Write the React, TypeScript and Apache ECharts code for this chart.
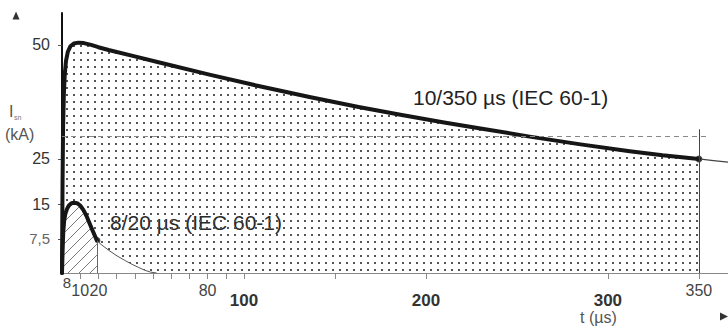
import React, { useEffect, useRef } from 'react';
import * as echarts from 'echarts';

// 10/350 µs impulse (t in µs, I in kA)
const wave10350: [number, number][] = [
  [0, 0], [0.3, 20], [0.6, 32], [1, 39], [1.5, 43.5], [2.2, 46.5], [3.2, 48.5], [4.6, 49.7],
  [6.5, 50.3], [9, 50.5], [12, 50.4], [16, 50], [20, 49.5], [25.6, 48.9], [40, 47.5],
  [53, 46.2], [81, 43.5], [108, 41.0], [136, 38.6], [163, 36.4], [186, 34.7], [210, 33.0],
  [230, 31.7], [257, 29.9], [285, 28.2], [312, 26.7], [330, 25.8], [350, 25.0],
];
const wave10350Tail: [number, number][] = [[350, 25.0], [358, 24.65], [366, 24.3]];

// 8/20 µs impulse
const wave820: [number, number][] = [
  [0, 0], [0.3, 5], [0.7, 9], [1.2, 11.5], [1.8, 12.9], [2.7, 14], [3.8, 14.8], [5.2, 15.3],
  [6.7, 15.4], [8.3, 15.3], [10, 14.8], [11.8, 13.8], [13.7, 12.3], [16.5, 9.6], [19.2, 7.1],
];
const wave820Tail: [number, number][] = [
  [19.2, 7.1], [20.5, 6.6], [22, 6.1], [25.6, 5.0], [30, 3.8], [34.8, 2.7], [38.5, 1.9],
  [42.2, 1.2], [45.5, 0.6], [48.6, 0.2], [52, 0],
];

const xTickValues = [10, 20, 30, 40, 50, 60, 70, 80, 90, 100, 150, 200, 300, 350];
const xLabelValues = [10, 20, 80, 100, 200, 300, 350];
const xBoldLabels = [100, 200, 300];
const frontTimeLabel = '8';
const yTickValues = [7.5, 15, 25, 50];
const yLabelText: Record<string, string> = { '7.5': '7,5', '15': '15', '25': '25', '50': '50' };
const refLevel = 30;
const refLineEnd = 356;
const markerTop = 31.5;

const FONT = '"Liberation Sans", Arial, Helvetica, sans-serif';

function makeDots(): string {
  const c = document.createElement('canvas');
  c.width = 7; c.height = 7;
  const ctx = c.getContext('2d')!;
  ctx.fillStyle = '#555';
  ctx.fillRect(3, 3, 2, 2);
  return c.toDataURL();
}

function makeHatch(): string {
  const s = 11;
  const c = document.createElement('canvas');
  c.width = s; c.height = s;
  const ctx = c.getContext('2d')!;
  ctx.strokeStyle = '#6a6a6a';
  ctx.lineWidth = 0.9;
  ctx.beginPath();
  ctx.moveTo(0, s); ctx.lineTo(s, 0);
  ctx.moveTo(-1, 1); ctx.lineTo(1, -1);
  ctx.moveTo(s - 1, s + 1); ctx.lineTo(s + 1, s - 1);
  ctx.stroke();
  return c.toDataURL();
}

export default function App() {
  const ref = useRef<HTMLDivElement>(null);
  useEffect(() => {
    if (!ref.current) return;
    const chart = echarts.init(ref.current, undefined, { renderer: 'svg' });
    const dots = { image: makeDots(), repeat: 'repeat', imageWidth: 7, imageHeight: 7 };
    const hatch = { image: makeHatch(), repeat: 'repeat', imageWidth: 11, imageHeight: 11 };
    const end820 = wave820[wave820.length - 1];
    const end10350 = wave10350[wave10350.length - 1];
    const smooth = false;

    const option: any = {
      animation: false,
      backgroundColor: '#fff',
      grid: { left: 62, right: 0, top: 13, bottom: 58 },
      xAxis: {
        type: 'value', min: 0, max: 366,
        splitLine: { show: false },
        axisLine: { show: true, lineStyle: { color: '#888', width: 1 } },
        axisTick: { show: true, customValues: xTickValues, length: 6, lineStyle: { color: '#888' } },
        axisLabel: {
          customValues: xLabelValues,
          hideOverlap: false,
          margin: 3,
          formatter: (v: number) => {
            if (xBoldLabels.indexOf(v) >= 0) return '{b|' + v + '}';
            return '{a|' + v + '}';
          },
          rich: {
            a: { fontSize: 16, color: '#444', fontFamily: FONT, padding: [6, 0, 0, 0] },
            b: { fontSize: 17, color: '#333', fontWeight: 'bold', fontFamily: FONT, padding: [16, 0, 0, 0] },
          },
        },
      },
      yAxis: {
        type: 'value', min: 0, max: 57,
        splitLine: { show: false },
        axisLine: { show: true, lineStyle: { color: '#111', width: 2 } },
        axisTick: { show: true, customValues: yTickValues, length: 4, lineStyle: { color: '#555' } },
        axisLabel: {
          customValues: yTickValues,
          margin: 12,
          formatter: (v: number) => (v === 7.5 ? '{s|' + yLabelText[String(v)] + '}' : '{n|' + yLabelText[String(v)] + '}'),
          rich: {
            n: { fontSize: 16, color: '#333', fontFamily: FONT },
            s: { fontSize: 15, color: '#666', fontFamily: FONT },
          },
        },
      },
      series: [
        {
          type: 'line', data: wave10350, smooth, symbol: 'none', silent: true,
          lineStyle: { width: 0, opacity: 0 },
          areaStyle: { color: dots, opacity: 1 },
          markLine: {
            silent: true, symbol: ['none', 'none'], label: { show: false },
            data: [
              [{ coord: [0, refLevel], lineStyle: { type: [5, 4], color: '#888', width: 1 } }, { coord: [refLineEnd, refLevel] }],
              [{ coord: [end10350[0], 0], lineStyle: { type: 'solid', color: '#444', width: 1 } }, { coord: [end10350[0], markerTop] }],
            ],
          },
        },
        {
          type: 'line', data: wave820.concat(wave820Tail.slice(1)), smooth, symbol: 'none', silent: true,
          lineStyle: { width: 0, opacity: 0 },
          areaStyle: { color: '#fff', opacity: 1 },
        },
        {
          type: 'line', data: wave820, smooth, symbol: 'none', silent: true,
          lineStyle: { width: 0, opacity: 0 },
          areaStyle: { color: hatch, opacity: 1 },
          markLine: {
            silent: true, symbol: ['none', 'none'], label: { show: false },
            lineStyle: { type: 'solid', color: '#666', width: 1 },
            data: [[{ coord: [end820[0], 0] }, { coord: [end820[0], end820[1]] }]],
          },
        },
        {
          type: 'line', data: wave10350Tail, smooth, symbol: 'none', silent: true,
          lineStyle: { width: 1.2, color: '#444' },
        },
        {
          type: 'line', data: wave820Tail, smooth, symbol: 'none', silent: true,
          lineStyle: { width: 1, color: '#555' },
        },
        {
          type: 'line', data: wave10350, smooth, symbol: 'none', silent: true,
          lineStyle: { width: 4, color: '#161616', cap: 'round', join: 'round' },
        },
        {
          type: 'line', data: wave820, smooth, symbol: 'none', silent: true,
          lineStyle: { width: 4, color: '#161616', cap: 'round', join: 'round' },
        },
        {
          type: 'scatter', data: [end820, end10350], symbol: 'circle', symbolSize: 7, silent: true,
          itemStyle: { color: '#161616' },
        },
      ],
      graphic: [
        { type: 'text', x: 413, y: 97, style: { text: '10/350 µs (IEC 60-1)', font: '21px ' + FONT, fill: '#222', verticalAlign: 'middle' } },
        { type: 'text', x: 110, y: 222, style: { text: '8/20 µs (IEC 60-1)', font: '21px ' + FONT, fill: '#2a2a2a', verticalAlign: 'middle' } },
        { type: 'text', x: 67, y: 282, style: { text: frontTimeLabel, font: '15px ' + FONT, fill: '#444', align: 'center', verticalAlign: 'middle' } },
        { type: 'text', x: 9, y: 111, style: { text: 'I', font: '16px ' + FONT, fill: '#555', verticalAlign: 'middle' } },
        { type: 'text', x: 14, y: 117, style: { text: 'sn', font: '7px ' + FONT, fill: '#777', verticalAlign: 'middle' } },
        { type: 'text', x: 5, y: 134, style: { text: '(kA)', font: '16px ' + FONT, fill: '#555', verticalAlign: 'middle' } },
        { type: 'text', x: 580, y: 317, style: { text: 't (µs)', font: '16px ' + FONT, fill: '#555', verticalAlign: 'middle' } },
        { type: 'polygon', shape: { points: [[12.5, 19.5], [19.5, 19.5], [16, 11.5]] }, style: { fill: '#333' } },
        { type: 'polygon', shape: { points: [[720, 312.5], [720, 320.5], [728, 316.5]] }, style: { fill: '#333' } },
      ],
    };
    chart.setOption(option);
    return () => chart.dispose();
  }, []);
  return <div ref={ref} style={{ position: 'fixed', left: 0, top: 0, width: 728, height: 331 }} />;
}
